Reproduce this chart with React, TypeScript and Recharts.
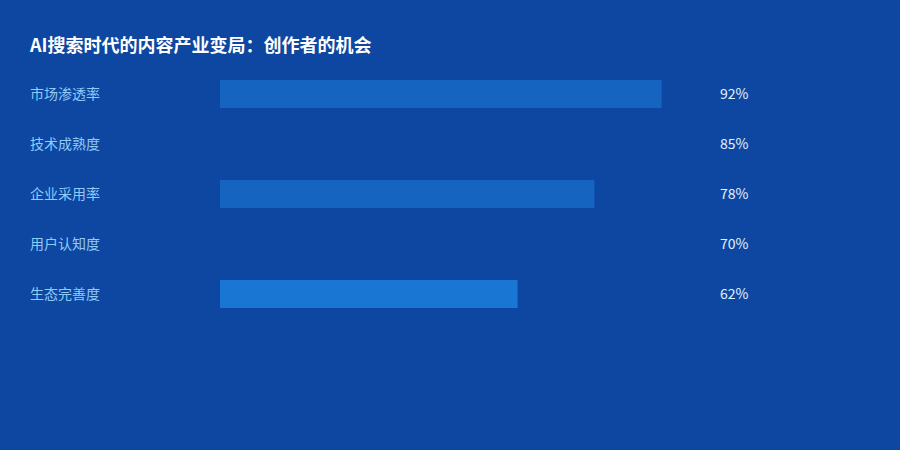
import { BarChart, Bar, XAxis, YAxis, Cell } from "recharts"

const categories = ["市场渗透率", "技术成熟度", "企业采用率", "用户认知度", "生态完善度"]
const values = [92, 85, 78, 70, 62]
const barColors = ["#1565c0", "#0d47a1", "#1565c0", "#0d47a1", "#1976d2"]

const data = categories.map((name, i) => ({ name, value: values[i] }))

const font = '"Noto Sans CJK SC", "Noto Sans", sans-serif'

function NameTick({ y, payload }: any) {
  return (
    <text x={30} y={y} dy={5} textAnchor="start" fill="#90caf9" fontSize={14} fontFamily={font}>
      {payload.value}
    </text>
  )
}

function ValueTick({ x, y, payload }: any) {
  const v = values[categories.indexOf(payload.value)]
  return (
    <text x={x} y={y} dx={12} dy={5} textAnchor="start" fill="#e3f2fd" fontSize={14} fontFamily={font}>
      {v}%
    </text>
  )
}

export default function App() {
  return (
    <div style={{ position: "relative", width: 900, height: 450, background: "#0d47a1", fontFamily: font }}>
      <style>{"body{margin:0}"}</style>
      <div
        style={{
          position: "absolute",
          left: 30,
          top: 31,
          color: "#ffffff",
          fontSize: 18,
          fontWeight: 700,
          lineHeight: "26px",
        }}
      >
        AI搜索时代的内容产业变局：创作者的机会
      </div>
      <BarChart
        width={900}
        height={450}
        data={data}
        layout="vertical"
        margin={{ top: 69, right: 0, bottom: 131, left: 0 }}
        barCategoryGap={22}
      >
        <XAxis type="number" domain={[0, 100]} hide />
        <YAxis
          yAxisId="left"
          type="category"
          dataKey="name"
          width={220}
          axisLine={false}
          tickLine={false}
          tick={<NameTick />}
        />
        <YAxis
          yAxisId="right"
          orientation="right"
          type="category"
          dataKey="name"
          width={200}
          axisLine={false}
          tickLine={false}
          tick={<ValueTick />}
        />
        <Bar yAxisId="left" dataKey="value" barSize={28} isAnimationActive={false}>
          {data.map((d, i) => (
            <Cell key={d.name} fill={barColors[i]} />
          ))}
        </Bar>
      </BarChart>
    </div>
  )
}
